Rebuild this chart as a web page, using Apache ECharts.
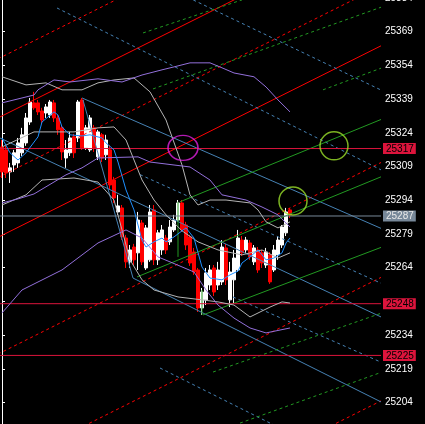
<!DOCTYPE html>
<html><head><meta charset="utf-8">
<script src="https://cdn.jsdelivr.net/npm/echarts@6/dist/echarts.min.js"></script>
<style>html,body{margin:0;padding:0;background:#000;overflow:hidden}#c{width:425px;height:424px}</style>
</head><body><div id="c"></div>
<script>
// candles: [open, close, low, high], index = bar number
const candles = [
[25317.7,25306.6,25303.9,25320.8],[25316.4,25306.1,25303.9,25318.2],[25306.6,25308.4,25301.7,25310.6],[25309.7,25315.1,25306.6,25316.4],
[25310.6,25319.5,25308.4,25321.7],[25315.1,25323.1,25313.7,25326.2],[25319.5,25330.6,25318.2,25332.8],[25328.8,25337.7,25327.5,25339.5],
[25337.3,25335.1,25334.2,25342.2],[25337.3,25333.3,25331.9,25338.6],[25333.7,25329.7,25327.9,25335.1],[25332.8,25335.5,25330.6,25336.8],
[25331.9,25337.7,25330.6,25338.6],[25337.3,25330.6,25328.8,25338.6],[25330.6,25325.3,25323.1,25331.9],[25326.2,25315.5,25311.9,25327.5],
[25312.8,25316.4,25308.4,25320.8],[25315.1,25321.7,25313.7,25324.4],[25322.2,25315.1,25312.8,25323.5],[25321.7,25337.7,25319.9,25338.6],
[25338.6,25317.3,25316.4,25339.5],[25317.3,25326.2,25316.4,25327.5],[25316.4,25330.6,25315.5,25331.9],[25326.2,25317.3,25315.5,25327.5],
[25313.3,25324.4,25311.9,25325.3],[25323.1,25312.8,25311.0,25323.9],[25314.2,25320.8,25311.9,25323.1],[25316.4,25300.8,25298.6,25318.6],
[25303.0,25295.0,25292.8,25304.4],[25288.8,25291.5,25287.5,25296.4],[25290.6,25277.7,25276.3,25291.9],[25277.2,25266.6,25263.9,25278.6],
[25266.6,25271.9,25263.9,25274.1],[25273.2,25267.5,25265.2,25274.6],[25270.6,25285.2,25263.0,25288.8],[25283.9,25266.6,25265.2,25285.2],
[25263.9,25281.7,25263.0,25283.0],[25267.5,25288.8,25266.6,25291.9],[25289.7,25267.5,25265.2,25291.9],[25267.5,25279.5,25265.2,25280.8],
[25271.9,25280.8,25269.7,25283.0],[25277.2,25271.9,25270.1,25278.6],[25275.5,25282.1,25274.1,25285.2],[25280.8,25285.2,25279.9,25287.5],
[25285.2,25292.8,25284.4,25294.1],[25292.8,25280.8,25279.9,25294.1],[25283.0,25274.1,25271.9,25284.4],[25277.7,25266.1,25264.8,25278.6],
[25271.0,25262.1,25260.8,25272.8],[25263.0,25246.1,25244.3,25263.9],[25246.1,25253.2,25243.0,25255.0],[25249.7,25261.7,25247.4,25263.9],
[25256.3,25263.0,25254.1,25265.2],[25263.9,25253.2,25251.4,25265.2],[25256.3,25263.0,25254.1,25266.6],[25257.7,25273.2,25256.3,25276.3],
[25272.8,25258.6,25256.3,25274.6],[25249.7,25262.1,25246.5,25266.6],[25258.6,25268.3,25248.3,25271.9],[25263.0,25277.2,25262.1,25280.8],
[25276.3,25270.6,25269.2,25278.1],[25271.9,25276.3,25270.6,25277.7],[25275.0,25268.8,25267.5,25276.3],[25266.6,25272.8,25265.2,25274.1],
[25271.9,25263.0,25261.7,25273.2],[25270.6,25266.1,25263.9,25271.9],[25265.2,25271.0,25263.9,25272.8],[25269.7,25257.7,25256.8,25271.0],
[25263.0,25271.9,25262.1,25274.1],[25269.7,25276.3,25267.5,25278.1],[25274.1,25282.1,25272.8,25283.0],[25279.5,25288.8,25278.1,25290.6],
[25289.7,25287.5,25286.1,25290.6]
];
// indicator lines: [bar, price]
const maFast = [[0,25321.7],[2,25315.1],[4,25311.9],[6,25315.1],[9,25322.2],[10,25328.8],[13,25333.3],[14,25331.9],[15,25326.6],[17,25323.1],[20,25322.6],[22,25323.1],[25,25321.7],[26,25319.5],[28,25316.4],[29,25311.0],[31,25298.6],[33,25289.7],[35,25276.3],[36,25273.2],[38,25275.5],[40,25277.2],[41,25275.5],[43,25277.7],[45,25280.4],[46,25281.7],[48,25277.2],[50,25264.3],[52,25259.4],[55,25258.6],[57,25260.8],[59,25262.5],[60,25266.1],[62,25268.8],[64,25271.9],[66,25267.5],[68,25268.3],[70,25270.6],[71,25275.0],[72,25277.2]];
const grayUpper = [[0,25348.9],[6,25345.3],[11,25346.2],[15,25343.1],[20,25343.1],[24,25346.2],[28,25347.5],[33,25348.4],[37,25342.2],[41,25329.7],[45,25309.7],[47,25296.4],[49,25291.9],[52,25294.1],[56,25294.1],[62,25292.8],[64,25289.7],[66,25284.4],[69,25281.7],[72,25284.4]];
const grayMid = [[0,25317.7],[8,25324.4],[18,25324.4],[24,25326.2],[28,25326.6],[31,25320.8],[33,25311.9],[35,25303.0],[38,25294.1],[41,25287.5],[45,25280.4],[49,25275.5],[54,25271.9],[60,25269.7],[65,25271.9],[69,25268.3],[72,25270.6]];
const grayLower = [[0,25291.9],[6,25296.4],[10,25303.0],[18,25303.9],[24,25302.1],[28,25294.1],[30,25280.8],[32,25267.5],[35,25258.6],[38,25254.1],[44,25251.0],[50,25249.7],[54,25248.8],[58,25247.4],[62,25242.1],[67,25246.5],[70,25248.8],[72,25248.3]];
const purpleUpper = [[0,25337.3],[8,25340.8],[9,25343.1],[13,25347.5],[17,25346.6],[24,25348.0],[30,25346.6],[35,25349.7],[40,25352.0],[43,25353.3],[47,25355.1],[52,25355.1],[55,25352.9],[58,25350.6],[63,25348.9],[66,25344.4],[69,25338.6],[72,25333.3]];
const purpleMid = [[0,25292.8],[4,25294.6],[8,25296.8],[16,25305.3],[20,25308.4],[24,25312.8],[34,25313.3],[37,25311.0],[47,25308.8],[52,25303.0],[55,25296.4],[61,25294.1],[65,25291.0],[69,25287.5],[72,25282.1]];
const purpleLower = [[0,25243.9],[5,25254.1],[15,25263.0],[24,25275.0],[31,25280.8],[35,25277.2],[39,25268.8],[42,25266.6],[48,25262.1],[51,25254.1],[54,25247.4],[58,25241.6],[62,25237.2],[66,25235.0],[72,25237.2]];
// drawn objects: [[bar, price],[bar, price]]
const redSolid = [[[-1,25330.6],[95,25416.0]],[[-1,25277.5],[95,25362.9]]];
const redDot = [[[-1,25356.9],[95,25442.3]],[[-1,25304.1],[95,25389.5]],[[-1,25225.6],[95,25311.0]],[[-1,25174.5],[95,25259.9]],[[-1,25119.6],[95,25205.0]]];
const blueSolid = [[[20,25339.5],[95,25281.3]],[[-1,25322.1],[95,25241.9]],[[32.75,25259.4],[95,25204.1]],[[20.25,25338.6],[32.75,25259.4]]];
const blueDot = [[[13.75,25379.5],[95,25307.3]],[[37,25392.3],[95,25342.8]],[[34.5,25305.4],[95,25256.9]],[[57.75,25251.0],[95,25221.8]],[[39.5,25219.4],[95,25170.0]]];
const greenSolid = [[[44.5,25293.3],[95,25330.1]],[[33.75,25259.9],[95,25304.6]],[[50.25,25243.0],[95,25273.2]],[[44,25293.3],[44,25268.8]],[[50,25254.1],[50,25243.0]]];
const greenDot = [[[35.25,25368.4],[60,25383.1]],[[37.75,25343.5],[95,25380.0]],[[80.25,25343.1],[95,25352.9]],[[52.75,25217.6],[95,25243.9]],[[59.5,25194.9],[95,25217.6]]];
const hLevels = [25317, 25248, 25225];
const bidLevel = 25287;
const circleMagenta = [[45.25,25317.3]];
const circlesLime = [[83,25318.2],[72.75,25293.7]];
const yTicks = [25204,25219,25234,25249,25264,25279,25294,25309,25324,25339,25354,25369,25384];
const yLabels = [25204,25219,25234,25264,25279,25294,25309,25324,25339,25354,25369,25384];
const tagValues = [25317,25287,25248,25225];

const X_MIN = -0.5, X_MAX = 94.5, Y_MIN = 25194.5, Y_MAX = 25387.5;

const series = [];
series.push({type:'candlestick', data: candles.map((c,i)=>[i].concat(c)), encode:{x:0,y:[1,2,3,4]}, barWidth:3, z:2,
  itemStyle:{color:'#ffffff', color0:'#ff0000', borderColor:'#ffffff', borderColor0:'#ff0000', borderWidth:1}});
function seg(pts, color, type, z){
  series.push({type:'line', data:pts, symbol:'none', clip:true, silent:true, z:z||3, animation:false,
    lineStyle:{color:color, width:1, type:type||'solid'}});
}
redSolid.forEach(l=>seg(l,'#ff0000'));
redDot.forEach(l=>seg(l,'#ff0000',[3,3]));
blueSolid.forEach(l=>seg(l,'#4682b4'));
blueDot.forEach(l=>seg(l,'#4682b4',[3,3]));
greenSolid.forEach(l=>seg(l,'#229922'));
greenDot.forEach(l=>seg(l,'#229922',[3,3]));
hLevels.forEach(v=>seg([[X_MIN-1,v],[X_MAX+1,v]],'#dc143c'));
seg([[X_MIN-1,bidLevel],[X_MAX+1,bidLevel]],'#778899');
seg(grayUpper,'#b4b4b4'); seg(grayMid,'#b4b4b4'); seg(grayLower,'#b4b4b4');
seg(purpleUpper,'#9370db'); seg(purpleMid,'#9370db'); seg(purpleLower,'#9370db');
seg(maFast,'#1e90ff',null,4);
series.push({type:'scatter', data:circleMagenta, symbol:'circle', symbolSize:[30,25], z:5, silent:true,
  itemStyle:{color:'rgba(0,0,0,0)', borderColor:'#e020e0', borderWidth:1.5}});
series.push({type:'scatter', data:circlesLime, symbol:'circle', symbolSize:28, z:5, silent:true,
  itemStyle:{color:'rgba(0,0,0,0)', borderColor:'#9be02b', borderWidth:1.5}});

const chart = echarts.init(document.getElementById('c'), null, {renderer:'canvas'});
chart.setOption({
  animation:false, backgroundColor:'#000',
  grid:{left:0, right:45, top:-10, bottom:0, outerBoundsMode:'none', containLabel:false},
  xAxis:{type:'value', min:X_MIN, max:X_MAX, show:false},
  yAxis:[
    {type:'value', position:'right', min:Y_MIN, max:Y_MAX, scale:true,
     axisLine:{show:true, lineStyle:{color:'#ffffff', width:1}},
     axisTick:{show:true, customValues:yTicks, length:3, lineStyle:{color:'#ffffff'}},
     axisLabel:{customValues:yLabels, color:'#ffffff', fontSize:10, fontFamily:'Liberation Sans', margin:5, formatter:(v)=>String(v)},
     splitLine:{show:false}},
    {type:'value', position:'right', min:Y_MIN, max:Y_MAX, scale:true,
     axisLine:{show:false}, axisTick:{show:false}, splitLine:{show:false},
     axisLabel:{customValues:tagValues, margin:3, fontSize:10, fontFamily:'Liberation Sans',
       formatter:(v)=> (v===bidLevel ? '{g|'+v+'}' : '{r|'+v+'}'),
       rich:{r:{backgroundColor:'#dc143c', color:'#000', padding:[1,2,0,3], fontSize:10, fontFamily:'Liberation Sans'},
             g:{backgroundColor:'#778899', color:'#e8e8e8', padding:[1,2,0,3], fontSize:10, fontFamily:'Liberation Sans'}}}}
  ],
  series: series
});
</script></body></html>
